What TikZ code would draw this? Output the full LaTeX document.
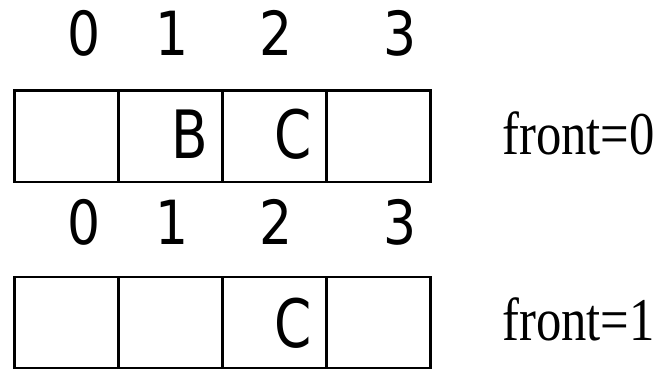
\documentclass[tikz,border=0pt]{standalone}
\usepackage{fontspec}
\setmainfont{Liberation Serif}
\newfontfamily\cellfont{DejaVu Sans}
\usetikzlibrary{positioning, calc}

\begin{document}
\begin{tikzpicture}[
    x=0.75pt, y=-0.75pt,
    % Style for one slot of the queue array
    cell/.style = {
        draw, line width=1.8pt,
        minimum width=78pt, minimum height=68.5pt,
        inner sep=0pt, outer sep=0pt
    },
    % Style for the slot numbers above the array
    idx/.style = {font=\cellfont\fontsize{39}{39}\selectfont, inner sep=0pt, anchor=base, yscale=1.17},
    % Style for the stored elements
    item/.style = {font=\cellfont\fontsize{40}{40}\selectfont, inner sep=0pt, anchor=base east, yscale=1.25},
    % Style for the front labels
    note/.style = {font=\fontsize{38}{38}\selectfont, inner sep=0pt, anchor=base west, yscale=1.2},
]
\useasboundingbox (0,0) rectangle (664,370);

% --- 1. FIRST STATE ---
\node[cell] (a0) at (66.5,136.3) {};
\node[cell, right=0pt of a0] (a1) {};
\node[cell, right=0pt of a1] (a2) {};
\node[cell, right=0pt of a2] (a3) {};

\node[idx] (ia0) at (84,56) {0};
\node[idx] (ia1) at (172,56) {1};
\node[idx] (ia2) at (276,56) {2};
\node[idx] (ia3) at (400,56) {3};

\node[item] (ba) at ($(a1.south east)+(-14,-23)$) {B};
\node[item] (ca) at ($(a2.south east)+(-14,-23)$) {C};

\node[note] (fa) at (502,155) {front=0};

% --- 2. SECOND STATE ---
\node[cell] (b0) at (66.5,322.6) {};
\node[cell, right=0pt of b0] (b1) {};
\node[cell, right=0pt of b1] (b2) {};
\node[cell, right=0pt of b2] (b3) {};

\node[idx] (ib0) at (84,245) {0};
\node[idx] (ib1) at (172,245) {1};
\node[idx] (ib2) at (276,245) {2};
\node[idx] (ib3) at (400,245) {3};

\node[item] (cb) at ($(b2.south east)+(-14,-21)$) {C};

\node[note] (fb) at (502,340) {front=1};

\end{tikzpicture}
\end{document}
